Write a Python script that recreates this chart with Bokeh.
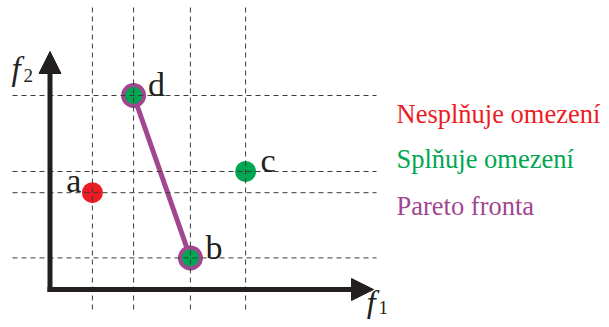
from bokeh.plotting import figure
from bokeh.models import Range1d, Arrow, NormalHead, Label
from bokeh.core.properties import value
from bokeh.embed import file_html
from bokeh.resources import INLINE

# ---- data ----
names = ["a", "b", "c", "d"]
f1 = [1.06, 3.51, 4.89, 2.09]
f2 = [2.42, 0.79, 2.95, 4.85]
feasible = [False, True, True, True]
pareto = ["d", "b"]
legend_texts = ["Nesplňuje omezení", "Splňuje omezení", "Pareto fronta"]
x_label = ("f", "1")
y_label = ("f", "2")

# ---- styles ----
RED = "#ED1C24"
GREEN = "#00A651"
PURPLE = "#A1478F"
INK = "#231F20"
DASH = "#3a3a3a"
SERIF = "Liberation Serif"

W, H = 601, 319
PX = 40.0            # pixels per unit
OX, OY = 49.5, 289   # canvas position of the origin (from top-left)

p = figure(width=W, height=H, output_backend="svg", toolbar_location=None,
           x_axis_type=None, y_axis_type=None, min_border=0,
           x_range=Range1d(-OX / PX, (W - OX) / PX),
           y_range=Range1d(-(H - OY) / PX, OY / PX))
p.grid.visible = False
p.outline_line_color = None
p.background_fill_color = "white"
p.border_fill_color = "white"

# Pareto front line
px_ = [f1[names.index(n)] for n in pareto]
py_ = [f2[names.index(n)] for n in pareto]
p.line(px_, py_, line_color=PURPLE, line_width=5)

# points
fill = [GREEN if ok else RED for ok in feasible]
plain = [i for i, n in enumerate(names) if n not in pareto]
ringed = [i for i, n in enumerate(names) if n in pareto]
p.scatter([f1[i] for i in plain], [f2[i] for i in plain], size=21,
          fill_color=[fill[i] for i in plain], line_color=None)
p.scatter([f1[i] for i in ringed], [f2[i] for i in ringed], size=21,
          fill_color=[fill[i] for i in ringed], line_color=PURPLE, line_width=4)

# dashed guide lines
p.segment(x0=f1, y0=-0.5, x1=f1, y1=7.05, line_color=DASH, line_width=1, line_dash="5 4")
p.segment(x0=-0.9375, y0=f2, x1=8.1625, y1=f2, line_color=DASH, line_width=1, line_dash="5 4")

# axes with arrow heads
ext = 2.5 / PX
p.add_layout(Arrow(end=NormalHead(size=22, fill_color=INK, line_color=INK, line_width=1),
                   x_start=-ext, y_start=0, x_end=8.0875, y_end=0,
                   line_color=INK, line_width=5))
p.add_layout(Arrow(end=NormalHead(size=22, fill_color=INK, line_color=INK, line_width=1),
                   x_start=0, y_start=-ext, x_end=0, y_end=5.95,
                   line_color=INK, line_width=5))

# point labels
x_off = [-18.5, 23.5, 22.5, 23]
y_off = [-12, -10, -11, -11]
p.text(x=f1, y=f2, text=names, x_offset=x_off, y_offset=y_off,
       text_font=value(SERIF), text_font_size="34px", text_color=INK,
       text_align="center", text_baseline="alphabetic")

# legend texts
leg_colors = [RED, GREEN, PURPLE]
leg_y = [206, 161, 114]
for t, c, y in zip(legend_texts, leg_colors, leg_y):
    p.add_layout(Label(x=396, y=y, x_units="screen", y_units="screen", text=t,
                       text_font=SERIF, text_font_size="26.5px", text_color=c,
                       text_baseline="alphabetic", text_align="left"))

# axis labels
p.add_layout(Label(x=11, y=251, x_units="screen", y_units="screen", text=y_label[0],
                   text_font=SERIF, text_font_style="italic", text_font_size="33px",
                   text_color=INK, text_baseline="alphabetic"))
p.add_layout(Label(x=23, y=244, x_units="screen", y_units="screen", text=y_label[1],
                   text_font=SERIF, text_font_size="19px",
                   text_color=INK, text_baseline="alphabetic"))
p.add_layout(Label(x=366, y=17, x_units="screen", y_units="screen", text=x_label[0],
                   text_font=SERIF, text_font_style="italic", text_font_size="33px",
                   text_color=INK, text_baseline="alphabetic"))
p.add_layout(Label(x=378, y=12, x_units="screen", y_units="screen", text=x_label[1],
                   text_font=SERIF, text_font_size="19px",
                   text_color=INK, text_baseline="alphabetic"))

open("out.html", "w").write(file_html(p, INLINE))
